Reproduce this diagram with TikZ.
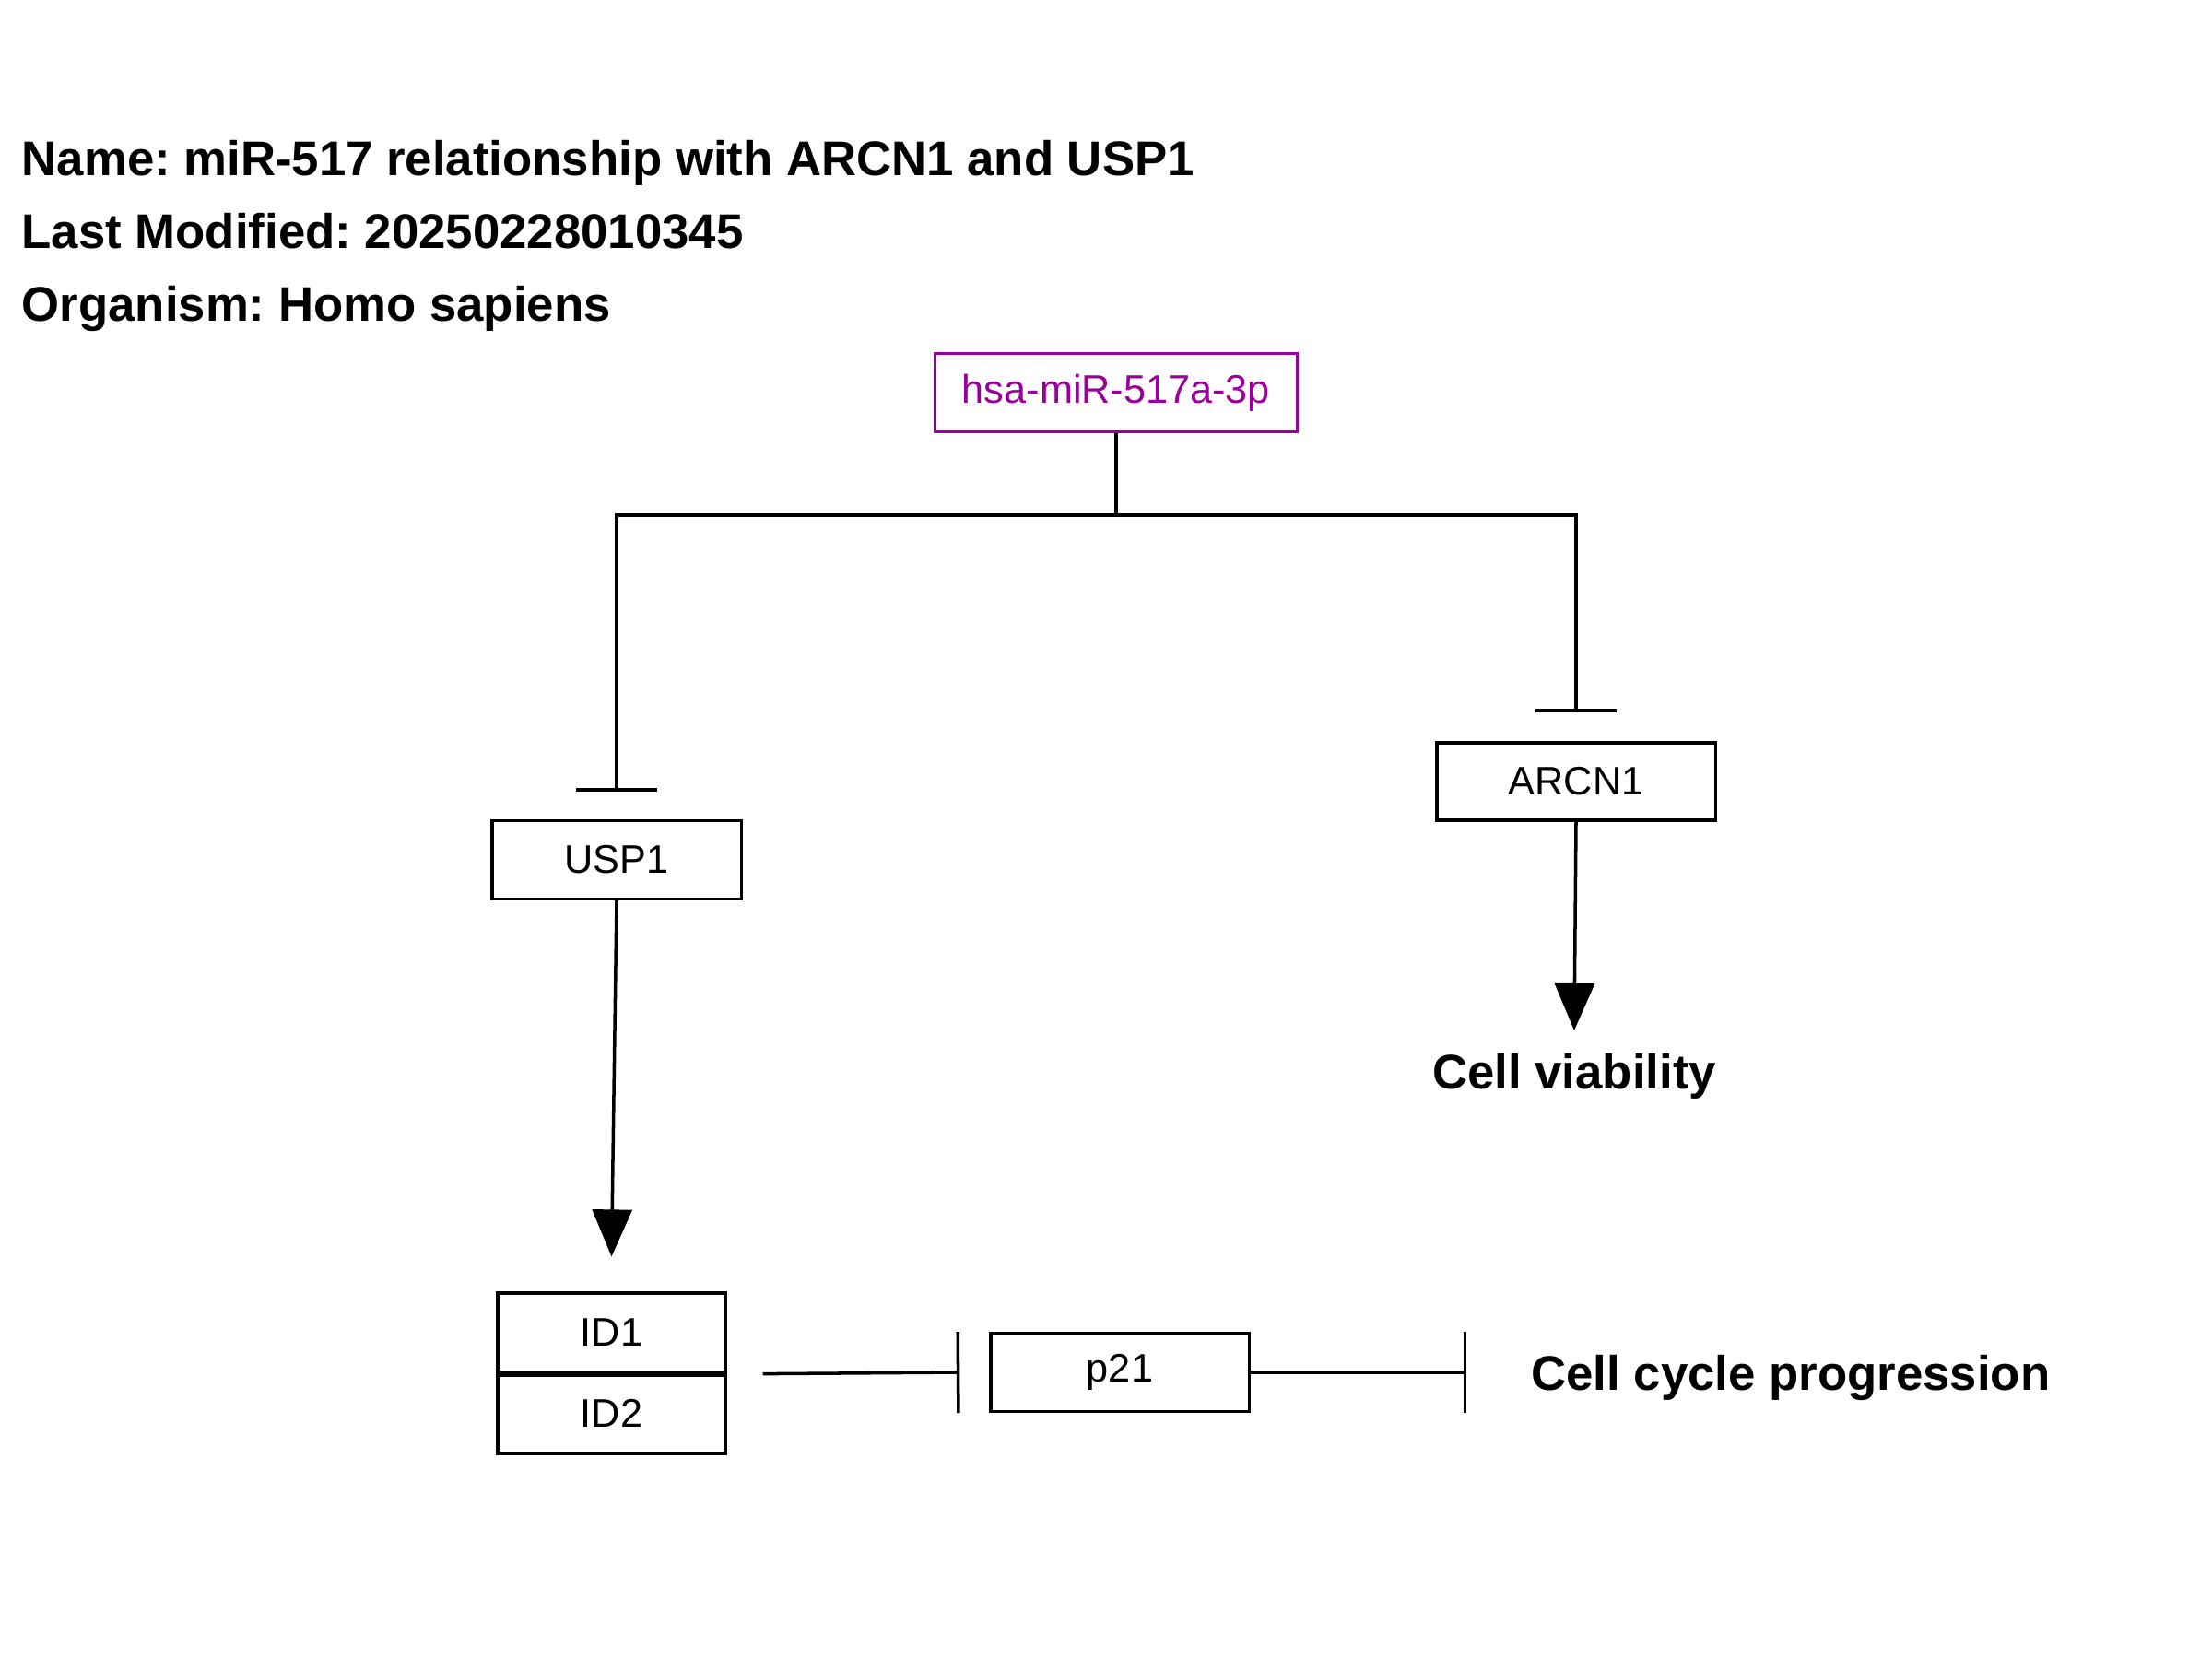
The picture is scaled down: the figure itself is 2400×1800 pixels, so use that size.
\documentclass[tikz,border=0pt]{standalone}
\usepackage{fontspec}
\setmainfont{Liberation Sans}
\usetikzlibrary{arrows.meta}
\definecolor{mirpurple}{RGB}{153,0,153}
\frenchspacing
\tikzset{
  gene/.style={draw=black, line width=0.9pt, rectangle, inner sep=0pt, font=\fontsize{12.3pt}{14pt}\selectfont, text=black},
  mirbox/.style={gene, draw=mirpurple, text=mirpurple},
  conn/.style={draw=black, line width=1pt},
  inhib/.style={conn, -{Bar[width=0.88cm]}},
  activ/.style={conn, -{Triangle[width=0.43cm, length=0.51cm]}},
  header/.style={anchor=base west, inner sep=0pt, font=\fontsize{15pt}{18pt}\selectfont\bfseries},
  phen/.style={anchor=base, inner sep=0pt, font=\fontsize{15pt}{18pt}\selectfont\bfseries}
}
\begin{document}
\begin{tikzpicture}[x=0.01cm, y=-0.01cm]
\useasboundingbox (0,0) rectangle (2400,1800);
\fill[white] (0,0) rectangle (2400,1800);

% header
\node[header] (hname) at (23,190) {Name: miR-517 relationship with ARCN1 and USP1};
\node[header] (hmod) at (23,269) {Last Modified: 20250228010345};
\node[header] (horg) at (23,348) {Organism: Homo sapiens};

% nodes
\node[mirbox, minimum width=3.92cm, minimum height=0.85cm] (mir) at (1211,426) {hsa-miR-517a-3p};
\node[gene, minimum width=2.70cm, minimum height=0.85cm] (usp1) at (669,933) {USP1};
\node[gene, minimum width=3.02cm, minimum height=0.84cm] (arcn1) at (1710,848) {ARCN1};
\node[gene, minimum width=2.47cm, minimum height=0.86cm] (id1) at (663.5,1446) {ID1};
\node[gene, minimum width=2.47cm, minimum height=0.88cm] (id2) at (663.5,1533) {ID2};
\draw[line width=2.2pt] (id1.south west) -- (id1.south east);
\node[gene, minimum width=2.80cm, minimum height=0.85cm] (p21) at (1215,1489) {p21};

\node[phen] (viab) at (1708,1181) {Cell viability};
\node[phen] (ccp) at (1943,1508) {Cell cycle progression};

% coordinates
\coordinate (split) at (1211,559);
\coordinate (usp1bar) at (669,859);
\coordinate (arcnbar) at (1710,773);
\coordinate (viabtip) at (1708,1118);
\coordinate (ccpbar) at (1591,1489);

% connectors
\draw[conn] (mir.south) -- (split);
\draw[inhib] (split) -| (usp1bar);
\draw[inhib] (split) -| (arcnbar);
\draw[activ] (usp1.south) -- ([shift={(0,-38)}]id1.north);
\draw[activ] (arcn1.south) -- (viabtip);
\draw[inhib] ([xshift=0.39cm]id1.south east) -- ([xshift=-0.32cm]p21.west);
\draw[inhib] (p21.east) -- (ccpbar);
\end{tikzpicture}
\end{document}
